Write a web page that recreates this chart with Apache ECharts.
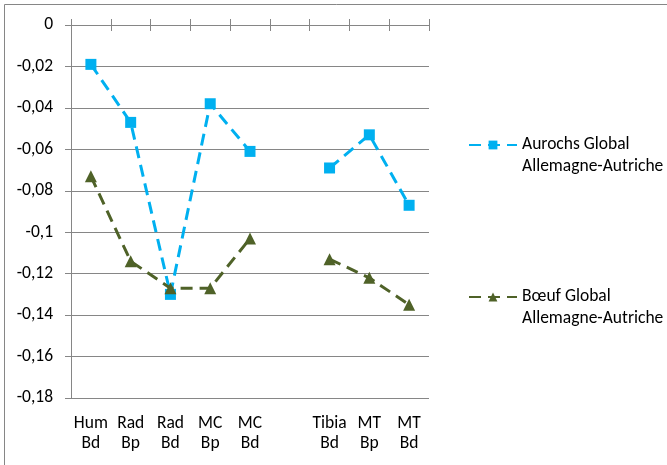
<!DOCTYPE html>
<html><head><meta charset="utf-8">
<script src="https://cdn.jsdelivr.net/npm/echarts@6/dist/echarts.min.js"></script>
<style>html,body{margin:0;padding:0;background:#fff}#c{width:667px;height:465px}</style>
</head><body><div id="c"></div>
<script>
var categories = ['Hum\nBd','Rad\nBp','Rad\nBd','MC\nBp','MC\nBd','','Tibia\nBd','MT\nBp','MT\nBd'];
var aurochs = [-0.019,-0.047,-0.130,-0.038,-0.061,null,-0.069,-0.053,-0.087];
var boeuf = [-0.073,-0.114,-0.127,-0.127,-0.103,null,-0.113,-0.122,-0.135];
var seriesNames = ['Aurochs Global Allemagne-Autriche','Bœuf Global Allemagne-Autriche'];
var yTicks = {min:-0.18, max:0, interval:0.02};

var FONT = 'Carlito, Lato, sans-serif';
var FS = 17.5;
var chart = echarts.init(document.getElementById('c'));
function topAxis(inside){
  return {type:'category', data:categories, position:'top', boundaryGap:true,
    axisLine:{show:true, lineStyle:{color:'#868686', width:1}},
    axisTick:{show:true, inside:inside, length:6, lineStyle:{color:'#868686'}},
    axisLabel:{show:false}, splitLine:{show:false}};
}
var legendText = {fontFamily:FONT, fontSize:FS, color:'#000', lineHeight:22};
chart.setOption({
  animation:false,
  grid:{left:71, right:238, top:25, bottom:67, containLabel:false},
  xAxis:[
    {type:'category', data:categories, position:'bottom', boundaryGap:true,
     axisLine:{show:false}, axisTick:{show:false},
     axisLabel:{interval:0, fontFamily:FONT, fontSize:FS, color:'#000', lineHeight:20, margin:16}},
    topAxis(true), topAxis(false)
  ],
  yAxis:{type:'value', min:yTicks.min, max:yTicks.max, interval:yTicks.interval,
    axisLine:{show:true, lineStyle:{color:'#868686'}},
    axisTick:{show:true, length:6, lineStyle:{color:'#868686'}},
    splitLine:{show:true, lineStyle:{color:'#868686', width:1}},
    axisLabel:{fontFamily:FONT, fontSize:FS, color:'#000', margin:18,
      formatter:function(v){var r=Math.round(v*100)/100; return String(r).replace('.',',');}}
  },
  legend:[
    {data:[seriesNames[0]], orient:'vertical', left:468, top:112, padding:0, itemWidth:48, itemHeight:11, itemGap:0,
     textStyle:legendText, formatter:function(n){return '\nAurochs Global\nAllemagne-Autriche';}},
    {data:[seriesNames[1]], orient:'vertical', left:468, top:264, padding:0, itemWidth:48, itemHeight:11, itemGap:0,
     textStyle:legendText, formatter:function(n){return '\nBœuf Global\nAllemagne-Autriche';}}
  ],
  graphic:[{type:'rect', shape:{x:4.5,y:4.5,width:700,height:500}, style:{fill:'none', stroke:'#868686', lineWidth:1}, silent:true}],
  series:[
    {name:seriesNames[0], type:'line', data:aurochs, xAxisIndex:0, symbol:'rect', symbolSize:11,
     connectNulls:false, color:'#00B0F0',
     lineStyle:{color:'#00B0F0', width:3, type:[12,7]}, itemStyle:{color:'#00B0F0'}},
    {name:seriesNames[1], type:'line', data:boeuf, xAxisIndex:0, symbol:'triangle', symbolSize:12,
     connectNulls:false, color:'#4F6228',
     lineStyle:{color:'#4F6228', width:3, type:[12,7]}, itemStyle:{color:'#4F6228'}}
  ]
});
</script></body></html>
